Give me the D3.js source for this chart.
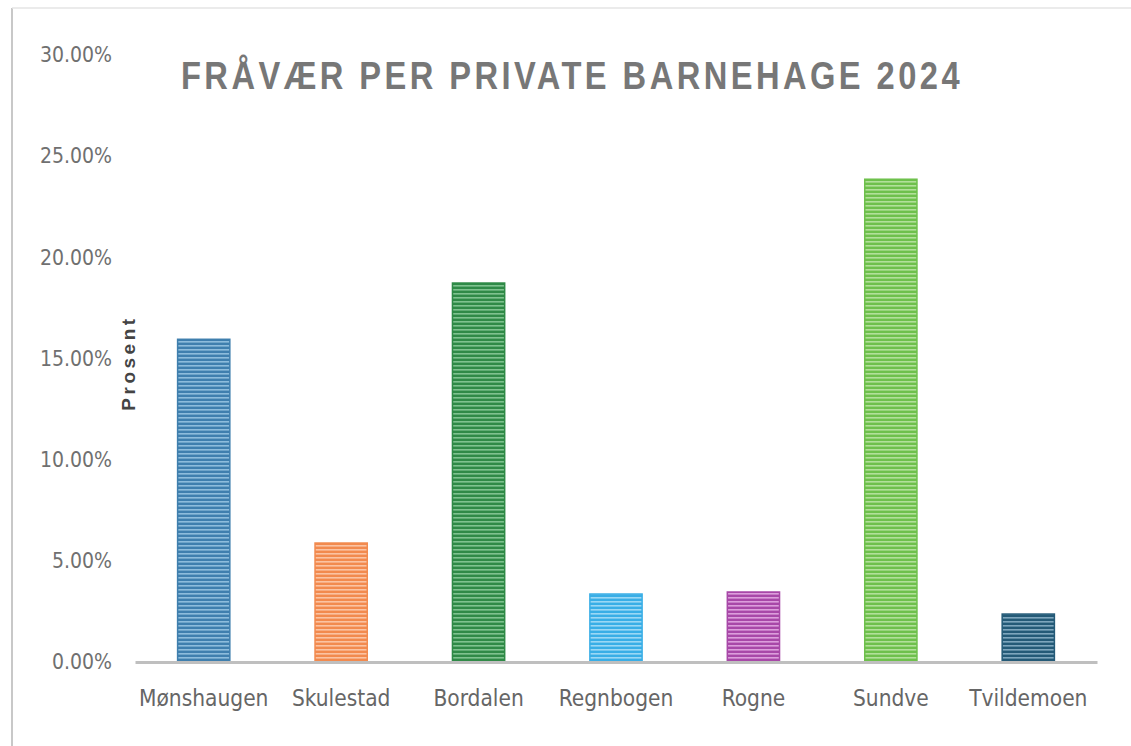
<!DOCTYPE html>
<html>
<head>
<meta charset="utf-8">
<script src="https://cdn.jsdelivr.net/npm/d3@7"></script>
<style>
  body { margin: 0; background: #fff; }
  svg { display: block; }
</style>
</head>
<body>
<div id="chart"></div>
<script>
var svgWidth = 1131;
var svgHeight = 746;

var margin = { top: 55, right: 34, bottom: 84, left: 135 };
var width = svgWidth - margin.left - margin.right;
var height = svgHeight - margin.top - margin.bottom;

// data
var barnehager = ["Mønshaugen", "Skulestad", "Bordalen", "Regnbogen", "Rogne", "Sundve", "Tvildemoen"];
var fravaer = [0.1595, 0.0588, 0.1873, 0.0336, 0.0346, 0.2386, 0.0237];
var yTicks = [0, 0.05, 0.10, 0.15, 0.20, 0.25, 0.30];
var barColors = ["#3f7fae", "#f28a4e", "#2f8a47", "#39aee6", "#a848a8", "#6ec04c", "#245a77"];
var stripeColors = ["#8dbcdc", "#fbc3a2", "#7fc28f", "#9ad8f5", "#dc9edc", "#b2e09a", "#7ea6bd"];

var svg = d3.select("#chart")
  .append("svg")
  .attr("width", svgWidth)
  .attr("height", svgHeight);

// screenshot frame
svg.append("line")
  .attr("x1", 12).attr("y1", 8).attr("x2", 12).attr("y2", svgHeight)
  .attr("stroke", "#c8c8c8").attr("stroke-width", 2);
svg.append("line")
  .attr("x1", 12).attr("y1", 8).attr("x2", svgWidth).attr("y2", 8)
  .attr("stroke", "#e4e4e4").attr("stroke-width", 1.5);

// stripe patterns
var defs = svg.append("defs");
barnehager.forEach(function(name, i) {
  var p = defs.append("pattern")
    .attr("id", "stripe" + i)
    .attr("patternUnits", "userSpaceOnUse")
    .attr("width", 8)
    .attr("height", 4);
  p.append("rect").attr("width", 8).attr("height", 4).attr("fill", barColors[i]);
  p.append("rect").attr("y", 2).attr("width", 8).attr("height", 1.6).attr("fill", stripeColors[i]);
});

var chartGroup = svg.append("g")
  .attr("transform", `translate(${margin.left}, ${margin.top})`);

var xScale = d3.scaleBand()
  .domain(barnehager)
  .range([0, width])
  .paddingInner(0.62)
  .paddingOuter(0.31);

var yScale = d3.scaleLinear()
  .domain([0, 0.30])
  .range([height, 0]);

// y axis labels
var leftAxis = d3.axisLeft(yScale)
  .tickValues(yTicks)
  .tickFormat(d3.format(".2%"))
  .tickSize(0)
  .tickPadding(23);

var yAxis = chartGroup.append("g").call(leftAxis);
yAxis.select(".domain").remove();
yAxis.selectAll("text")
  .attr("font-family", "'DejaVu Sans Condensed', 'Liberation Sans Narrow', sans-serif")
  .attr("font-size", "21px")
  .attr("fill", "#707070");

// bars
chartGroup.selectAll(".bar")
  .data(fravaer)
  .enter()
  .append("rect")
  .attr("class", "bar")
  .attr("x", (d, i) => xScale(barnehager[i]))
  .attr("y", d => yScale(d))
  .attr("width", xScale.bandwidth())
  .attr("height", d => height - yScale(d))
  .attr("fill", (d, i) => `url(#stripe${i})`)
  .attr("stroke", (d, i) => barColors[i])
  .attr("stroke-width", 1.5);

// x axis
var bottomAxis = d3.axisBottom(xScale).tickSize(0).tickPadding(28);
var xAxis = chartGroup.append("g")
  .attr("transform", `translate(0, ${height})`)
  .call(bottomAxis);
xAxis.select(".domain")
  .attr("stroke", "#bfbfbf")
  .attr("stroke-width", 3);
xAxis.selectAll("text")
  .attr("font-family", "'DejaVu Sans Condensed', 'Liberation Sans Narrow', sans-serif")
  .attr("font-size", "22.5px")
  .attr("fill", "#666");

// title - narrow glyphs with wide spacing
svg.append("text")
  .attr("transform", "translate(572, 89) scale(0.86, 1)")
  .attr("text-anchor", "middle")
  .attr("font-family", "'Liberation Sans', Arial, sans-serif")
  .attr("font-weight", "bold")
  .attr("font-size", "38px")
  .attr("letter-spacing", "4px")
  .attr("fill", "#777")
  .text("FRÅVÆR PER PRIVATE BARNEHAGE 2024");

// y axis title
svg.append("text")
  .attr("transform", "translate(135, 363) rotate(-90)")
  .attr("text-anchor", "middle")
  .attr("font-family", "'Liberation Sans', Arial, sans-serif")
  .attr("font-weight", "bold")
  .attr("font-size", "19px")
  .attr("letter-spacing", "3.5px")
  .attr("fill", "#444")
  .text("Prosent");
</script>
</body>
</html>
